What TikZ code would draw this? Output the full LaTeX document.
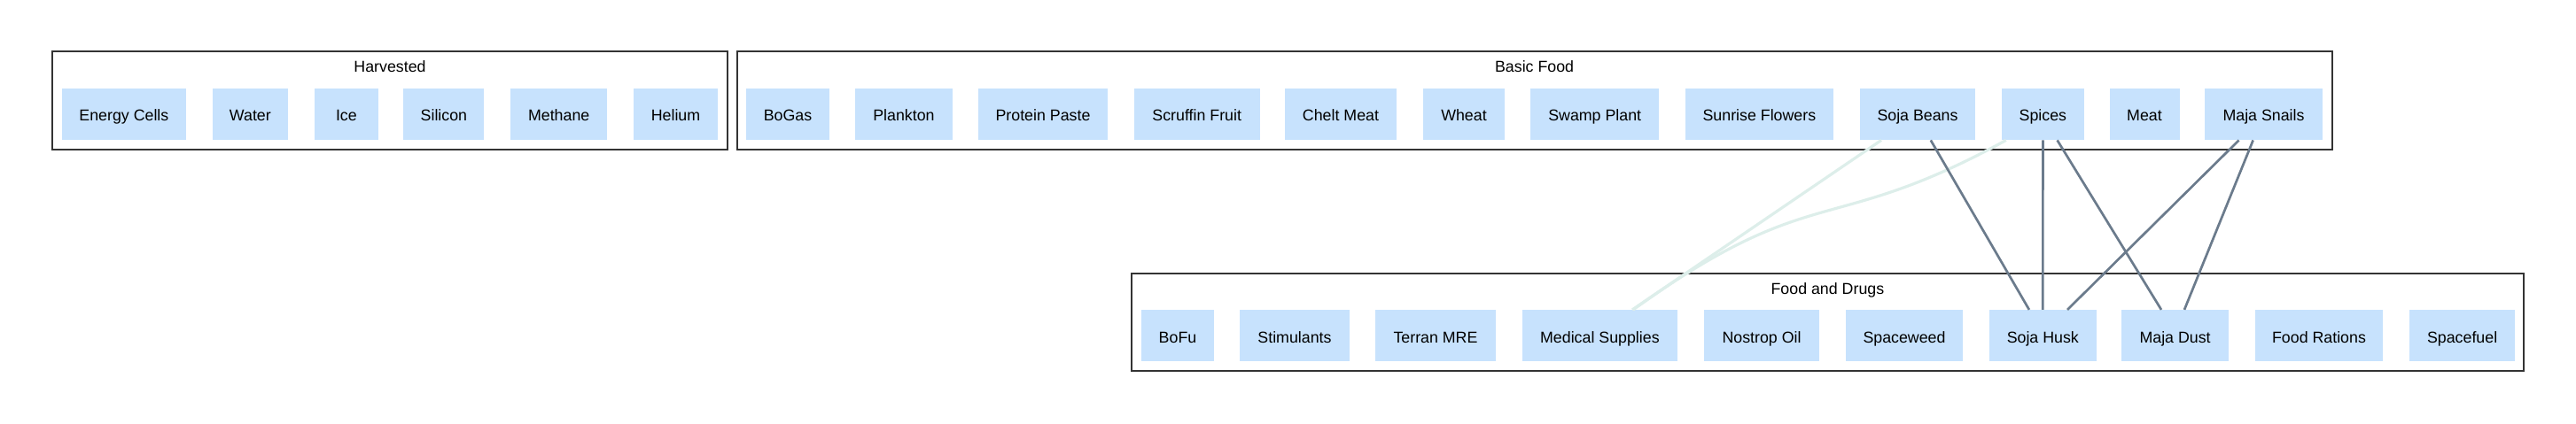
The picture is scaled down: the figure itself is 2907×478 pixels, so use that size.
\documentclass[tikz,border=0pt]{standalone}
\usepackage{fontspec}
\setmainfont{Liberation Sans}
\usetikzlibrary{calc}
\definecolor{nodefill}{HTML}{C7E2FD}
\definecolor{darkedge}{HTML}{6B7B8C}
\definecolor{lightedge}{HTML}{DDEEEA}
\definecolor{boxline}{HTML}{333333}
\tikzset{
  item/.style={rectangle, fill=nodefill, draw=none, minimum height=29pt, inner sep=0pt,
    text height=7.7pt, text depth=0pt,
    font=\fontsize{8.9}{10.7}\selectfont, text=black},
  cluster/.style={draw=boxline, line width=1pt},
  ctitle/.style={font=\fontsize{8.9}{10.7}\selectfont, text=black, inner sep=0pt, anchor=base},
  dedge/.style={draw=darkedge, line width=1.35pt},
  ledge/.style={draw=lightedge, line width=1.6pt},
}
\begin{document}
\begin{tikzpicture}[x=0.5pt,y=-0.5pt]
\useasboundingbox (0,0) rectangle (2907,478);
% clusters
\draw[cluster] (58.5,58.3) rectangle (821.3,169);
\node[ctitle] (tharv) at (440,81.7) {Harvested};
\draw[cluster] (831.5,58.3) rectangle (2631.7,169);
\node[ctitle] (tbasic) at (1731.6,81.7) {Basic Food};
\draw[cluster] (1277,309) rectangle (2847.8,419);
\node[ctitle] (tfood) at (2062.4,332.4) {Food and Drugs};
% harvested
\node[item, minimum width=70pt] (ec) at (139.9,129) {Energy Cells};
\node[item, minimum width=42.9pt] (water) at (282.4,129) {Water};
\node[item, minimum width=35.8pt] (ice) at (390.9,129) {Ice};
\node[item, minimum width=45.5pt] (silicon) at (500.9,129) {Silicon};
\node[item, minimum width=54.5pt] (methane) at (630.7,129) {Methane};
\node[item, minimum width=47.5pt] (helium) at (762.5,129) {Helium};
% basic food
\node[item, minimum width=46.9pt] (bogas) at (889,129) {BoGas};
\node[item, minimum width=55pt] (plankton) at (1020,129) {Plankton};
\node[item, minimum width=73.4pt] (protein) at (1177,129) {Protein Paste};
\node[item, minimum width=70.8pt] (scruffin) at (1350.7,129) {Scruffin Fruit};
\node[item, minimum width=63.2pt] (chelt) at (1513,129) {Chelt Meat};
\node[item, minimum width=46.3pt] (wheat) at (1652,129) {Wheat};
\node[item, minimum width=72.5pt] (swamp) at (1799.7,129) {Swamp Plant};
\node[item, minimum width=83.8pt] (sunrise) at (1985.4,129) {Sunrise Flowers};
\node[item, minimum width=64.9pt] (sojabeans) at (2164,129) {Soja Beans};
\node[item, minimum width=46.2pt] (spices) at (2305.4,129) {Spices};
\node[item, minimum width=39.5pt] (meat) at (2420,129) {Meat};
\node[item, minimum width=66.3pt] (majasnails) at (2554.5,129) {Maja Snails};
% food and drugs
\node[item, minimum width=40.8pt] (bofu) at (1329,379.3) {BoFu};
\node[item, minimum width=61.8pt] (stim) at (1461,379.3) {Stimulants};
\node[item, minimum width=67.9pt] (terran) at (1620,379.3) {Terran MRE};
\node[item, minimum width=87.5pt] (medical) at (1805.4,379.3) {Medical Supplies};
\node[item, minimum width=65pt] (nostrop) at (1988,379.3) {Nostrop Oil};
\node[item, minimum width=66pt] (spaceweed) at (2149,379.3) {Spaceweed};
\node[item, minimum width=60.3pt] (sojahusk) at (2305.3,379.3) {Soja Husk};
\node[item, minimum width=60.3pt] (majadust) at (2454.6,379.3) {Maja Dust};
\node[item, minimum width=72.4pt] (rations) at (2617,379.3) {Food Rations};
\node[item, minimum width=59.4pt] (spacefuel) at (2778.6,379.3) {Spacefuel};
% edges
\draw[ledge] ($(sojabeans.south)+(-41,0)$) -- ($(medical.north)+(36.6,0)$);
\draw[ledge] ($(spices.south)+(-41.6,0)$) .. controls (2063,268.6) and (2048,202.4) .. ($(medical.north)+(37.6,0)$);
\draw[dedge] ($(sojabeans.south)+(14.8,0)$) -- ($(sojahusk.north)+(-15.4,0)$);
\draw[dedge] (spices.south) -- (sojahusk.north);
\draw[dedge] ($(spices.south)+(16.2,0)$) -- ($(majadust.north)+(-15.6,0)$);
\draw[dedge] ($(majasnails.south)+(-27.9,0)$) -- ($(sojahusk.north)+(27.7,0)$);
\draw[dedge] ($(majasnails.south)+(-11.9,0)$) -- ($(majadust.north)+(10.4,0)$);
\end{tikzpicture}
\end{document}
